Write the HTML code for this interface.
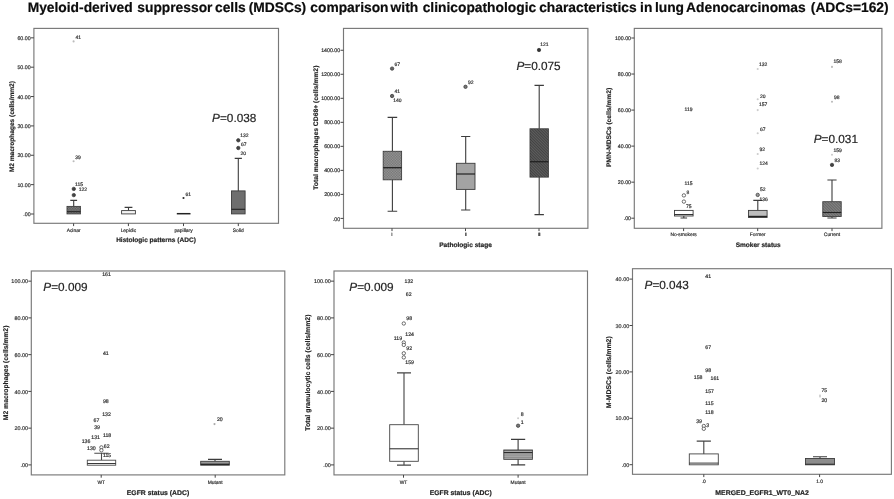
<!DOCTYPE html>
<html><head><meta charset="utf-8"><title>MDSCs boxplots</title>
<style>html,body{margin:0;padding:0;background:#fff;}body{width:894px;height:499px;overflow:hidden;}svg{display:block;font-family:"Liberation Sans", sans-serif;text-rendering:geometricPrecision;will-change:transform;opacity:0.999;filter:blur(0.35px);}</style></head><body>
<svg width="894" height="499" viewBox="0 0 894 499">
<rect width="894" height="499" fill="#fff"/>
<defs><pattern id="pCross" width="1.6" height="1.6" patternUnits="userSpaceOnUse"><rect width="1.6" height="1.6" fill="none"/><rect width="0.8" height="0.8" fill="#000" fill-opacity="0.22"/><rect x="0.8" y="0.8" width="0.8" height="0.8" fill="#000" fill-opacity="0.22"/><rect x="0.8" width="0.8" height="0.8" fill="#fff" fill-opacity="0.12"/><rect y="0.8" width="0.8" height="0.8" fill="#fff" fill-opacity="0.12"/></pattern><pattern id="pDiag" width="2" height="2" patternUnits="userSpaceOnUse" patternTransform="rotate(45)"><rect width="2" height="1" fill="#fff" fill-opacity="0.10"/><rect y="1" width="2" height="1" fill="#000" fill-opacity="0.12"/></pattern><pattern id="pHorz" width="2" height="1.8" patternUnits="userSpaceOnUse"><rect width="2" height="0.9" fill="#000" fill-opacity="0.18"/><rect y="0.9" width="2" height="0.9" fill="#fff" fill-opacity="0.10"/></pattern></defs>
<g font-size="13.8" font-weight="bold" fill="#0c0c0c" stroke="#0c0c0c" stroke-width="0.2">
<text x="27.7" y="11.8">Myeloid-derived</text>
<text x="137.3" y="11.8">suppressor</text>
<text x="215.0" y="11.8">cells</text>
<text x="248.7" y="11.8">(MDSCs)</text>
<text x="310.3" y="11.8">comparison</text>
<text x="390.6" y="11.8">with</text>
<text x="422.7" y="11.8">clinicopathologic</text>
<text x="539.2" y="11.8">characteristics</text>
<text x="640.1" y="11.8">in</text>
<text x="654.9" y="11.8">lung</text>
<text x="686.1" y="11.8">Adenocarcinomas</text>
<text x="810.8" y="11.8">(ADCs=162)</text>
</g>
<rect x="33.90" y="28.40" width="244.60" height="194.90" fill="none" stroke="#787878" stroke-width="1.15"/>
<line x1="30.90" y1="214.00" x2="33.90" y2="214.00" stroke="#444" stroke-width="1"/>
<text x="30.60" y="216.10" font-size="5.25" text-anchor="end" fill="#2c2c2c" stroke="#2c2c2c" stroke-width="0.18">.00</text>
<line x1="30.90" y1="184.64" x2="33.90" y2="184.64" stroke="#444" stroke-width="1"/>
<text x="30.60" y="186.74" font-size="5.25" text-anchor="end" fill="#2c2c2c" stroke="#2c2c2c" stroke-width="0.18">10.00</text>
<line x1="30.90" y1="155.28" x2="33.90" y2="155.28" stroke="#444" stroke-width="1"/>
<text x="30.60" y="157.38" font-size="5.25" text-anchor="end" fill="#2c2c2c" stroke="#2c2c2c" stroke-width="0.18">20.00</text>
<line x1="30.90" y1="125.92" x2="33.90" y2="125.92" stroke="#444" stroke-width="1"/>
<text x="30.60" y="128.02" font-size="5.25" text-anchor="end" fill="#2c2c2c" stroke="#2c2c2c" stroke-width="0.18">30.00</text>
<line x1="30.90" y1="96.56" x2="33.90" y2="96.56" stroke="#444" stroke-width="1"/>
<text x="30.60" y="98.66" font-size="5.25" text-anchor="end" fill="#2c2c2c" stroke="#2c2c2c" stroke-width="0.18">40.00</text>
<line x1="30.90" y1="67.20" x2="33.90" y2="67.20" stroke="#444" stroke-width="1"/>
<text x="30.60" y="69.30" font-size="5.25" text-anchor="end" fill="#2c2c2c" stroke="#2c2c2c" stroke-width="0.18">50.00</text>
<line x1="30.90" y1="37.84" x2="33.90" y2="37.84" stroke="#444" stroke-width="1"/>
<text x="30.60" y="39.94" font-size="5.25" text-anchor="end" fill="#2c2c2c" stroke="#2c2c2c" stroke-width="0.18">60.00</text>
<text transform="translate(13.70,126.60) rotate(-90)" font-size="6.6" text-anchor="middle" font-weight="bold" fill="#222" stroke="#222" stroke-width="0.15" textLength="91.00" lengthAdjust="spacingAndGlyphs">M2 macrophages (cells/mm2)</text>
<line x1="73.60" y1="223.30" x2="73.60" y2="226.10" stroke="#444" stroke-width="1"/>
<text x="73.60" y="231.60" font-size="4.9" text-anchor="middle" fill="#2c2c2c" stroke="#2c2c2c" stroke-width="0.18">Acinar</text>
<line x1="128.40" y1="223.30" x2="128.40" y2="226.10" stroke="#444" stroke-width="1"/>
<text x="128.40" y="231.60" font-size="4.9" text-anchor="middle" fill="#2c2c2c" stroke="#2c2c2c" stroke-width="0.18">Lepidic</text>
<line x1="183.50" y1="223.30" x2="183.50" y2="226.10" stroke="#444" stroke-width="1"/>
<text x="183.50" y="231.60" font-size="4.9" text-anchor="middle" fill="#2c2c2c" stroke="#2c2c2c" stroke-width="0.18">papillary</text>
<line x1="238.30" y1="223.30" x2="238.30" y2="226.10" stroke="#444" stroke-width="1"/>
<text x="238.30" y="231.60" font-size="4.9" text-anchor="middle" fill="#2c2c2c" stroke="#2c2c2c" stroke-width="0.18">Solid</text>
<text x="156.00" y="242.30" font-size="6.6" text-anchor="middle" font-weight="bold" fill="#222" stroke="#222" stroke-width="0.18" textLength="79.70" lengthAdjust="spacingAndGlyphs">Histologic patterns (ADC)</text>
<path d="M73.70 206.40V200.40M70.30 200.40H77.10" stroke="#3c3c3c" stroke-width="1.1" fill="none"/>
<rect x="67.00" y="206.40" width="13.40" height="7.50" fill="#707070" stroke="#3c3c3c" stroke-width="0.9"/>
<rect x="67.00" y="206.40" width="13.40" height="7.50" fill="url(#pCross)" stroke="none"/>
<line x1="67.00" y1="211.70" x2="80.40" y2="211.70" stroke="#222" stroke-width="1.0"/>
<path d="M128.50 210.60V207.40M124.60 207.40H132.40" stroke="#3c3c3c" stroke-width="1.1" fill="none"/>
<rect x="121.60" y="210.60" width="13.80" height="3.30" fill="#f4f4f4" stroke="#3c3c3c" stroke-width="0.9"/>
<line x1="176.8" y1="213.7" x2="190.5" y2="213.7" stroke="#222" stroke-width="1.5"/>
<path d="M238.30 190.90V158.40M234.70 158.40H241.90" stroke="#3c3c3c" stroke-width="1.1" fill="none"/>
<rect x="231.50" y="190.90" width="13.60" height="23.00" fill="#6e6e6e" stroke="#3c3c3c" stroke-width="0.9"/>
<line x1="231.50" y1="209.30" x2="245.10" y2="209.30" stroke="#222" stroke-width="1.1"/>
<circle cx="73.60" cy="41.40" r="1.05" fill="#bbb"/>
<text x="75.60" y="39.30" font-size="5.0" text-anchor="start" fill="#2c2c2c" stroke="#2c2c2c" stroke-width="0.18">41</text>
<circle cx="73.60" cy="161.20" r="1.05" fill="#bbb"/>
<text x="75.20" y="158.80" font-size="5.0" text-anchor="start" fill="#2c2c2c" stroke="#2c2c2c" stroke-width="0.18">39</text>
<circle cx="73.80" cy="188.90" r="1.7" fill="#444" stroke="#333" stroke-width="0.7"/>
<text x="75.00" y="185.60" font-size="5.0" text-anchor="start" fill="#2c2c2c" stroke="#2c2c2c" stroke-width="0.18">115</text>
<circle cx="73.80" cy="195.10" r="1.7" fill="#444" stroke="#333" stroke-width="0.7"/>
<text x="78.80" y="191.40" font-size="5.0" text-anchor="start" fill="#2c2c2c" stroke="#2c2c2c" stroke-width="0.18">122</text>
<circle cx="183.50" cy="198.00" r="1.05" fill="#2a2a2a"/>
<text x="185.40" y="195.50" font-size="5.0" text-anchor="start" fill="#2c2c2c" stroke="#2c2c2c" stroke-width="0.18">61</text>
<circle cx="238.30" cy="140.30" r="1.7" fill="#444" stroke="#333" stroke-width="0.7"/>
<text x="240.20" y="137.10" font-size="5.0" text-anchor="start" fill="#2c2c2c" stroke="#2c2c2c" stroke-width="0.18">132</text>
<circle cx="238.30" cy="148.00" r="1.7" fill="#444" stroke="#333" stroke-width="0.7"/>
<text x="241.00" y="145.80" font-size="5.0" text-anchor="start" fill="#2c2c2c" stroke="#2c2c2c" stroke-width="0.18">67</text>
<text x="240.50" y="155.10" font-size="5.0" text-anchor="start" fill="#2c2c2c" stroke="#2c2c2c" stroke-width="0.18">20</text>
<text x="212.10" y="121.90" font-size="11.8" fill="#262626" stroke="#262626" stroke-width="0.2"><tspan font-style="italic">P</tspan>=0.038</text>
<rect x="343.50" y="28.40" width="244.40" height="199.90" fill="none" stroke="#787878" stroke-width="1.15"/>
<line x1="340.50" y1="218.40" x2="343.50" y2="218.40" stroke="#444" stroke-width="1"/>
<text x="340.20" y="220.50" font-size="5.25" text-anchor="end" fill="#2c2c2c" stroke="#2c2c2c" stroke-width="0.18">.00</text>
<line x1="340.50" y1="194.38" x2="343.50" y2="194.38" stroke="#444" stroke-width="1"/>
<text x="340.20" y="196.48" font-size="5.25" text-anchor="end" fill="#2c2c2c" stroke="#2c2c2c" stroke-width="0.18">200.00</text>
<line x1="340.50" y1="170.36" x2="343.50" y2="170.36" stroke="#444" stroke-width="1"/>
<text x="340.20" y="172.46" font-size="5.25" text-anchor="end" fill="#2c2c2c" stroke="#2c2c2c" stroke-width="0.18">400.00</text>
<line x1="340.50" y1="146.34" x2="343.50" y2="146.34" stroke="#444" stroke-width="1"/>
<text x="340.20" y="148.44" font-size="5.25" text-anchor="end" fill="#2c2c2c" stroke="#2c2c2c" stroke-width="0.18">600.00</text>
<line x1="340.50" y1="122.32" x2="343.50" y2="122.32" stroke="#444" stroke-width="1"/>
<text x="340.20" y="124.42" font-size="5.25" text-anchor="end" fill="#2c2c2c" stroke="#2c2c2c" stroke-width="0.18">800.00</text>
<line x1="340.50" y1="98.30" x2="343.50" y2="98.30" stroke="#444" stroke-width="1"/>
<text x="340.20" y="100.40" font-size="5.25" text-anchor="end" fill="#2c2c2c" stroke="#2c2c2c" stroke-width="0.18">1000.00</text>
<line x1="340.50" y1="74.28" x2="343.50" y2="74.28" stroke="#444" stroke-width="1"/>
<text x="340.20" y="76.38" font-size="5.25" text-anchor="end" fill="#2c2c2c" stroke="#2c2c2c" stroke-width="0.18">1200.00</text>
<line x1="340.50" y1="50.26" x2="343.50" y2="50.26" stroke="#444" stroke-width="1"/>
<text x="340.20" y="52.36" font-size="5.25" text-anchor="end" fill="#2c2c2c" stroke="#2c2c2c" stroke-width="0.18">1400.00</text>
<text transform="translate(317.50,127.70) rotate(-90)" font-size="6.6" text-anchor="middle" font-weight="bold" fill="#222" stroke="#222" stroke-width="0.15" textLength="124.20" lengthAdjust="spacingAndGlyphs">Total macrophages CD68+ (cells/mm2)</text>
<line x1="392.00" y1="228.30" x2="392.00" y2="231.10" stroke="#444" stroke-width="1"/>
<text x="392.00" y="236.30" font-size="4.6" text-anchor="middle" fill="#2c2c2c" stroke="#2c2c2c" stroke-width="0.18">I</text>
<line x1="465.50" y1="228.30" x2="465.50" y2="231.10" stroke="#444" stroke-width="1"/>
<text x="465.50" y="236.30" font-size="4.6" text-anchor="middle" fill="#2c2c2c" stroke="#2c2c2c" stroke-width="0.18" letter-spacing="-0.45">II</text>
<line x1="539.00" y1="228.30" x2="539.00" y2="231.10" stroke="#444" stroke-width="1"/>
<text x="539.00" y="236.30" font-size="4.6" text-anchor="middle" fill="#2c2c2c" stroke="#2c2c2c" stroke-width="0.18" letter-spacing="-0.6">III</text>
<text x="465.50" y="247.20" font-size="6.6" text-anchor="middle" font-weight="bold" fill="#222" stroke="#222" stroke-width="0.18" textLength="52.70" lengthAdjust="spacingAndGlyphs">Pathologic stage</text>
<path d="M392.40 151.30V117.40M387.60 117.40H397.20" stroke="#3c3c3c" stroke-width="1.1" fill="none"/>
<path d="M392.40 179.80V211.30M387.60 211.30H397.20" stroke="#3c3c3c" stroke-width="1.1" fill="none"/>
<rect x="383.20" y="151.30" width="18.40" height="28.50" fill="#8e8e8e" stroke="#3c3c3c" stroke-width="0.9"/>
<rect x="383.20" y="151.30" width="18.40" height="28.50" fill="url(#pCross)" stroke="none"/>
<line x1="383.20" y1="167.70" x2="401.60" y2="167.70" stroke="#222" stroke-width="1.3"/>
<path d="M465.70 163.30V136.50M461.10 136.50H470.30" stroke="#3c3c3c" stroke-width="1.1" fill="none"/>
<path d="M465.70 189.40V210.00M461.10 210.00H470.30" stroke="#3c3c3c" stroke-width="1.1" fill="none"/>
<rect x="456.40" y="163.30" width="18.60" height="26.10" fill="#a3a3a3" stroke="#3c3c3c" stroke-width="0.9"/>
<line x1="456.40" y1="174.00" x2="475.00" y2="174.00" stroke="#222" stroke-width="1.2"/>
<path d="M539.20 128.80V85.40M534.50 85.40H543.90" stroke="#3c3c3c" stroke-width="1.1" fill="none"/>
<path d="M539.20 177.10V214.60M534.50 214.60H543.90" stroke="#3c3c3c" stroke-width="1.1" fill="none"/>
<rect x="530.00" y="128.80" width="18.40" height="48.30" fill="#4c4c4c" stroke="#3c3c3c" stroke-width="0.9"/>
<rect x="530.00" y="128.80" width="18.40" height="48.30" fill="url(#pDiag)" stroke="none"/>
<line x1="530.00" y1="161.70" x2="548.40" y2="161.70" stroke="#222" stroke-width="1.3"/>
<circle cx="392.10" cy="68.60" r="1.7" fill="#666" stroke="#333" stroke-width="0.7"/>
<text x="394.50" y="65.80" font-size="5.0" text-anchor="start" fill="#2c2c2c" stroke="#2c2c2c" stroke-width="0.18">67</text>
<circle cx="392.10" cy="96.00" r="1.7" fill="#666" stroke="#333" stroke-width="0.7"/>
<text x="394.50" y="92.80" font-size="5.0" text-anchor="start" fill="#2c2c2c" stroke="#2c2c2c" stroke-width="0.18">41</text>
<text x="393.30" y="102.10" font-size="5.0" text-anchor="start" fill="#2c2c2c" stroke="#2c2c2c" stroke-width="0.18">140</text>
<circle cx="465.50" cy="86.80" r="1.7" fill="#777" stroke="#333" stroke-width="0.7"/>
<text x="467.90" y="83.80" font-size="5.0" text-anchor="start" fill="#2c2c2c" stroke="#2c2c2c" stroke-width="0.18">92</text>
<circle cx="539.00" cy="50.00" r="1.7" fill="#333" stroke="#333" stroke-width="0.7"/>
<text x="540.20" y="45.80" font-size="5.0" text-anchor="start" fill="#2c2c2c" stroke="#2c2c2c" stroke-width="0.18">121</text>
<text x="516.40" y="69.80" font-size="11.8" fill="#262626" stroke="#262626" stroke-width="0.2"><tspan font-style="italic">P</tspan>=0.075</text>
<rect x="634.30" y="28.40" width="247.60" height="199.90" fill="none" stroke="#787878" stroke-width="1.15"/>
<line x1="631.30" y1="218.20" x2="634.30" y2="218.20" stroke="#444" stroke-width="1"/>
<text x="631.00" y="220.30" font-size="5.25" text-anchor="end" fill="#2c2c2c" stroke="#2c2c2c" stroke-width="0.18">.00</text>
<line x1="631.30" y1="182.16" x2="634.30" y2="182.16" stroke="#444" stroke-width="1"/>
<text x="631.00" y="184.26" font-size="5.25" text-anchor="end" fill="#2c2c2c" stroke="#2c2c2c" stroke-width="0.18">20.00</text>
<line x1="631.30" y1="146.12" x2="634.30" y2="146.12" stroke="#444" stroke-width="1"/>
<text x="631.00" y="148.22" font-size="5.25" text-anchor="end" fill="#2c2c2c" stroke="#2c2c2c" stroke-width="0.18">40.00</text>
<line x1="631.30" y1="110.08" x2="634.30" y2="110.08" stroke="#444" stroke-width="1"/>
<text x="631.00" y="112.18" font-size="5.25" text-anchor="end" fill="#2c2c2c" stroke="#2c2c2c" stroke-width="0.18">60.00</text>
<line x1="631.30" y1="74.04" x2="634.30" y2="74.04" stroke="#444" stroke-width="1"/>
<text x="631.00" y="76.14" font-size="5.25" text-anchor="end" fill="#2c2c2c" stroke="#2c2c2c" stroke-width="0.18">80.00</text>
<line x1="631.30" y1="38.00" x2="634.30" y2="38.00" stroke="#444" stroke-width="1"/>
<text x="631.00" y="40.10" font-size="5.25" text-anchor="end" fill="#2c2c2c" stroke="#2c2c2c" stroke-width="0.18">100.00</text>
<text transform="translate(610.80,127.40) rotate(-90)" font-size="6.6" text-anchor="middle" font-weight="bold" fill="#222" stroke="#222" stroke-width="0.15" textLength="79.00" lengthAdjust="spacingAndGlyphs">PMN-MDSCs (cells/mm2)</text>
<line x1="683.60" y1="228.30" x2="683.60" y2="231.10" stroke="#444" stroke-width="1"/>
<text x="683.60" y="236.30" font-size="4.9" text-anchor="middle" fill="#2c2c2c" stroke="#2c2c2c" stroke-width="0.18">No-smokers</text>
<line x1="757.70" y1="228.30" x2="757.70" y2="231.10" stroke="#444" stroke-width="1"/>
<text x="757.70" y="236.30" font-size="4.9" text-anchor="middle" fill="#2c2c2c" stroke="#2c2c2c" stroke-width="0.18">Former</text>
<line x1="832.00" y1="228.30" x2="832.00" y2="231.10" stroke="#444" stroke-width="1"/>
<text x="832.00" y="236.30" font-size="4.9" text-anchor="middle" fill="#2c2c2c" stroke="#2c2c2c" stroke-width="0.18">Current</text>
<text x="758.20" y="247.20" font-size="6.6" text-anchor="middle" font-weight="bold" fill="#222" stroke="#222" stroke-width="0.18" textLength="45.00" lengthAdjust="spacingAndGlyphs">Smoker status</text>
<path d="M683.80 216.00V218.00M680.50 218.00H687.10" stroke="#3c3c3c" stroke-width="1.1" fill="none"/>
<rect x="674.50" y="210.40" width="18.60" height="5.60" fill="#fff" stroke="#3c3c3c" stroke-width="0.9"/>
<line x1="674.50" y1="214.60" x2="693.10" y2="214.60" stroke="#222" stroke-width="1.0"/>
<path d="M757.80 210.40V200.40M753.30 200.40H762.30" stroke="#3c3c3c" stroke-width="1.1" fill="none"/>
<rect x="748.50" y="210.40" width="18.60" height="7.10" fill="#bdbdbd" stroke="#3c3c3c" stroke-width="0.9"/>
<line x1="748.50" y1="216.40" x2="767.10" y2="216.40" stroke="#222" stroke-width="1.2"/>
<path d="M832.00 201.70V180.00M827.40 180.00H836.60" stroke="#3c3c3c" stroke-width="1.1" fill="none"/>
<path d="M832.00 216.50V218.00M827.40 218.00H836.60" stroke="#3c3c3c" stroke-width="1.1" fill="none"/>
<rect x="822.80" y="201.70" width="18.40" height="14.80" fill="#757575" stroke="#3c3c3c" stroke-width="0.9"/>
<rect x="822.80" y="201.70" width="18.40" height="14.80" fill="url(#pDiag)" stroke="none"/>
<line x1="822.80" y1="212.50" x2="841.20" y2="212.50" stroke="#222" stroke-width="1.1"/>
<text x="684.60" y="111.00" font-size="5.0" text-anchor="start" fill="#2c2c2c" stroke="#2c2c2c" stroke-width="0.18">119</text>
<text x="684.60" y="185.20" font-size="5.0" text-anchor="start" fill="#2c2c2c" stroke="#2c2c2c" stroke-width="0.18">115</text>
<circle cx="683.90" cy="195.40" r="1.7" fill="#fff" stroke="#333" stroke-width="0.7"/>
<text x="686.50" y="193.60" font-size="5.0" text-anchor="start" fill="#2c2c2c" stroke="#2c2c2c" stroke-width="0.18">8</text>
<circle cx="683.90" cy="201.60" r="1.7" fill="#fff" stroke="#333" stroke-width="0.7"/>
<text x="686.00" y="208.00" font-size="5.0" text-anchor="start" fill="#2c2c2c" stroke="#2c2c2c" stroke-width="0.18">75</text>
<circle cx="757.70" cy="69.00" r="1.05" fill="#ccc"/>
<text x="758.90" y="65.80" font-size="5.0" text-anchor="start" fill="#2c2c2c" stroke="#2c2c2c" stroke-width="0.18">132</text>
<circle cx="757.70" cy="99.30" r="1.05" fill="#ccc"/>
<text x="759.90" y="97.50" font-size="5.0" text-anchor="start" fill="#2c2c2c" stroke="#2c2c2c" stroke-width="0.18">20</text>
<circle cx="757.70" cy="110.10" r="1.05" fill="#ccc"/>
<text x="758.90" y="106.40" font-size="5.0" text-anchor="start" fill="#2c2c2c" stroke="#2c2c2c" stroke-width="0.18">157</text>
<circle cx="757.70" cy="133.20" r="1.05" fill="#ccc"/>
<text x="759.90" y="130.70" font-size="5.0" text-anchor="start" fill="#2c2c2c" stroke="#2c2c2c" stroke-width="0.18">67</text>
<circle cx="757.70" cy="154.00" r="1.05" fill="#ccc"/>
<text x="759.40" y="151.00" font-size="5.0" text-anchor="start" fill="#2c2c2c" stroke="#2c2c2c" stroke-width="0.18">92</text>
<circle cx="757.70" cy="168.50" r="1.05" fill="#ccc"/>
<text x="759.40" y="165.00" font-size="5.0" text-anchor="start" fill="#2c2c2c" stroke="#2c2c2c" stroke-width="0.18">124</text>
<circle cx="757.70" cy="194.90" r="1.7" fill="#999" stroke="#333" stroke-width="0.7"/>
<text x="759.90" y="191.20" font-size="5.0" text-anchor="start" fill="#2c2c2c" stroke="#2c2c2c" stroke-width="0.18">52</text>
<text x="759.40" y="201.30" font-size="5.0" text-anchor="start" fill="#2c2c2c" stroke="#2c2c2c" stroke-width="0.18">136</text>
<circle cx="832.00" cy="66.90" r="1.05" fill="#bbb"/>
<text x="833.40" y="63.40" font-size="5.0" text-anchor="start" fill="#2c2c2c" stroke="#2c2c2c" stroke-width="0.18">158</text>
<circle cx="832.00" cy="101.70" r="1.05" fill="#bbb"/>
<text x="833.90" y="99.20" font-size="5.0" text-anchor="start" fill="#2c2c2c" stroke="#2c2c2c" stroke-width="0.18">98</text>
<circle cx="832.00" cy="154.80" r="1.05" fill="#ccc"/>
<text x="833.40" y="151.50" font-size="5.0" text-anchor="start" fill="#2c2c2c" stroke="#2c2c2c" stroke-width="0.18">159</text>
<circle cx="832.00" cy="164.90" r="1.7" fill="#444" stroke="#333" stroke-width="0.7"/>
<text x="834.60" y="161.80" font-size="5.0" text-anchor="start" fill="#2c2c2c" stroke="#2c2c2c" stroke-width="0.18">83</text>
<text x="813.70" y="142.50" font-size="11.8" fill="#262626" stroke="#262626" stroke-width="0.2"><tspan font-style="italic">P</tspan>=0.031</text>
<rect x="31.30" y="271.00" width="253.50" height="203.90" fill="none" stroke="#787878" stroke-width="1.15"/>
<line x1="28.30" y1="464.90" x2="31.30" y2="464.90" stroke="#444" stroke-width="1"/>
<text x="28.00" y="467.07" font-size="5.45" text-anchor="end" fill="#2c2c2c" stroke="#2c2c2c" stroke-width="0.18">.00</text>
<line x1="28.30" y1="428.15" x2="31.30" y2="428.15" stroke="#444" stroke-width="1"/>
<text x="28.00" y="430.32" font-size="5.45" text-anchor="end" fill="#2c2c2c" stroke="#2c2c2c" stroke-width="0.18">20.00</text>
<line x1="28.30" y1="391.40" x2="31.30" y2="391.40" stroke="#444" stroke-width="1"/>
<text x="28.00" y="393.57" font-size="5.45" text-anchor="end" fill="#2c2c2c" stroke="#2c2c2c" stroke-width="0.18">40.00</text>
<line x1="28.30" y1="354.65" x2="31.30" y2="354.65" stroke="#444" stroke-width="1"/>
<text x="28.00" y="356.82" font-size="5.45" text-anchor="end" fill="#2c2c2c" stroke="#2c2c2c" stroke-width="0.18">60.00</text>
<line x1="28.30" y1="317.90" x2="31.30" y2="317.90" stroke="#444" stroke-width="1"/>
<text x="28.00" y="320.07" font-size="5.45" text-anchor="end" fill="#2c2c2c" stroke="#2c2c2c" stroke-width="0.18">80.00</text>
<line x1="28.30" y1="281.15" x2="31.30" y2="281.15" stroke="#444" stroke-width="1"/>
<text x="28.00" y="283.32" font-size="5.45" text-anchor="end" fill="#2c2c2c" stroke="#2c2c2c" stroke-width="0.18">100.00</text>
<text transform="translate(7.90,372.90) rotate(-90)" font-size="6.85" text-anchor="middle" font-weight="bold" fill="#222" stroke="#222" stroke-width="0.15" textLength="94.60" lengthAdjust="spacingAndGlyphs">M2 macrophages (cells/mm2)</text>
<line x1="101.20" y1="474.90" x2="101.20" y2="477.70" stroke="#444" stroke-width="1"/>
<text x="101.20" y="483.50" font-size="4.9" text-anchor="middle" fill="#2c2c2c" stroke="#2c2c2c" stroke-width="0.18">WT</text>
<line x1="215.20" y1="474.90" x2="215.20" y2="477.70" stroke="#444" stroke-width="1"/>
<text x="215.20" y="483.50" font-size="4.9" text-anchor="middle" fill="#2c2c2c" stroke="#2c2c2c" stroke-width="0.18">Mutant</text>
<text x="158.00" y="494.60" font-size="6.85" text-anchor="middle" font-weight="bold" fill="#222" stroke="#222" stroke-width="0.18" textLength="62.40" lengthAdjust="spacingAndGlyphs">EGFR status (ADC)</text>
<path d="M101.50 460.20V453.30M94.30 453.30H108.70" stroke="#4a4a4a" stroke-width="1.1" fill="none"/>
<rect x="87.30" y="460.20" width="28.40" height="5.00" fill="#fff" stroke="#4a4a4a" stroke-width="0.9"/>
<line x1="87.30" y1="463.50" x2="115.70" y2="463.50" stroke="#222" stroke-width="0.9"/>
<path d="M215.00 461.30V459.40M208.00 459.40H222.00" stroke="#3c3c3c" stroke-width="1.1" fill="none"/>
<rect x="200.70" y="461.30" width="28.60" height="3.90" fill="#999" stroke="#3c3c3c" stroke-width="0.9"/>
<line x1="200.70" y1="464.30" x2="229.30" y2="464.30" stroke="#222" stroke-width="1.3"/>
<circle cx="101.40" cy="447.40" r="1.7" fill="#fff" stroke="#333" stroke-width="0.7"/>
<circle cx="101.40" cy="450.30" r="1.7" fill="#fff" stroke="#333" stroke-width="0.7"/>
<text x="102.20" y="276.07" font-size="5.2" text-anchor="start" fill="#2c2c2c" stroke="#2c2c2c" stroke-width="0.18">161</text>
<text x="102.90" y="354.67" font-size="5.2" text-anchor="start" fill="#2c2c2c" stroke="#2c2c2c" stroke-width="0.18">41</text>
<text x="102.90" y="403.27" font-size="5.2" text-anchor="start" fill="#2c2c2c" stroke="#2c2c2c" stroke-width="0.18">98</text>
<text x="102.20" y="415.77" font-size="5.2" text-anchor="start" fill="#2c2c2c" stroke="#2c2c2c" stroke-width="0.18">132</text>
<text x="93.50" y="421.77" font-size="5.2" text-anchor="start" fill="#2c2c2c" stroke="#2c2c2c" stroke-width="0.18">67</text>
<text x="94.20" y="429.47" font-size="5.2" text-anchor="start" fill="#2c2c2c" stroke="#2c2c2c" stroke-width="0.18">39</text>
<text x="91.30" y="438.57" font-size="5.2" text-anchor="start" fill="#2c2c2c" stroke="#2c2c2c" stroke-width="0.18">131</text>
<text x="102.90" y="436.67" font-size="5.2" text-anchor="start" fill="#2c2c2c" stroke="#2c2c2c" stroke-width="0.18">118</text>
<text x="81.70" y="442.67" font-size="5.2" text-anchor="start" fill="#2c2c2c" stroke="#2c2c2c" stroke-width="0.18">136</text>
<text x="87.00" y="450.07" font-size="5.2" text-anchor="start" fill="#2c2c2c" stroke="#2c2c2c" stroke-width="0.18">130</text>
<text x="103.80" y="448.47" font-size="5.2" text-anchor="start" fill="#2c2c2c" stroke="#2c2c2c" stroke-width="0.18">62</text>
<text x="102.90" y="456.57" font-size="5.2" text-anchor="start" fill="#2c2c2c" stroke="#2c2c2c" stroke-width="0.18">115</text>
<circle cx="214.50" cy="424.10" r="1.05" fill="#aaa"/>
<text x="216.90" y="421.47" font-size="5.2" text-anchor="start" fill="#2c2c2c" stroke="#2c2c2c" stroke-width="0.18">20</text>
<text x="43.30" y="291.20" font-size="11.8" fill="#262626" stroke="#262626" stroke-width="0.2"><tspan font-style="italic">P</tspan>=0.009</text>
<rect x="334.00" y="271.00" width="253.50" height="203.90" fill="none" stroke="#787878" stroke-width="1.15"/>
<line x1="331.00" y1="464.90" x2="334.00" y2="464.90" stroke="#444" stroke-width="1"/>
<text x="330.70" y="467.07" font-size="5.45" text-anchor="end" fill="#2c2c2c" stroke="#2c2c2c" stroke-width="0.18">.00</text>
<line x1="331.00" y1="428.15" x2="334.00" y2="428.15" stroke="#444" stroke-width="1"/>
<text x="330.70" y="430.32" font-size="5.45" text-anchor="end" fill="#2c2c2c" stroke="#2c2c2c" stroke-width="0.18">20.00</text>
<line x1="331.00" y1="391.40" x2="334.00" y2="391.40" stroke="#444" stroke-width="1"/>
<text x="330.70" y="393.57" font-size="5.45" text-anchor="end" fill="#2c2c2c" stroke="#2c2c2c" stroke-width="0.18">40.00</text>
<line x1="331.00" y1="354.65" x2="334.00" y2="354.65" stroke="#444" stroke-width="1"/>
<text x="330.70" y="356.82" font-size="5.45" text-anchor="end" fill="#2c2c2c" stroke="#2c2c2c" stroke-width="0.18">60.00</text>
<line x1="331.00" y1="317.90" x2="334.00" y2="317.90" stroke="#444" stroke-width="1"/>
<text x="330.70" y="320.07" font-size="5.45" text-anchor="end" fill="#2c2c2c" stroke="#2c2c2c" stroke-width="0.18">80.00</text>
<line x1="331.00" y1="281.15" x2="334.00" y2="281.15" stroke="#444" stroke-width="1"/>
<text x="330.70" y="283.32" font-size="5.45" text-anchor="end" fill="#2c2c2c" stroke="#2c2c2c" stroke-width="0.18">100.00</text>
<text transform="translate(310.30,372.60) rotate(-90)" font-size="6.85" text-anchor="middle" font-weight="bold" fill="#222" stroke="#222" stroke-width="0.15" textLength="116.20" lengthAdjust="spacingAndGlyphs">Total granulocytic cells (cells/mm2)</text>
<line x1="403.50" y1="474.90" x2="403.50" y2="477.70" stroke="#444" stroke-width="1"/>
<text x="403.50" y="483.50" font-size="4.9" text-anchor="middle" fill="#2c2c2c" stroke="#2c2c2c" stroke-width="0.18">WT</text>
<line x1="518.10" y1="474.90" x2="518.10" y2="477.70" stroke="#444" stroke-width="1"/>
<text x="518.10" y="483.50" font-size="4.9" text-anchor="middle" fill="#2c2c2c" stroke="#2c2c2c" stroke-width="0.18">Mutant</text>
<text x="460.70" y="494.60" font-size="6.85" text-anchor="middle" font-weight="bold" fill="#222" stroke="#222" stroke-width="0.18" textLength="62.00" lengthAdjust="spacingAndGlyphs">EGFR status (ADC)</text>
<path d="M404.00 424.70V372.90M397.00 372.90H411.00" stroke="#444" stroke-width="1.1" fill="none"/>
<path d="M404.00 461.30V465.10M397.00 465.10H411.00" stroke="#444" stroke-width="1.1" fill="none"/>
<rect x="389.70" y="424.70" width="28.60" height="36.60" fill="#fff" stroke="#444" stroke-width="0.9"/>
<line x1="389.70" y1="448.80" x2="418.30" y2="448.80" stroke="#222" stroke-width="1.0"/>
<path d="M518.10 450.00V439.40M511.00 439.40H525.20" stroke="#3c3c3c" stroke-width="1.1" fill="none"/>
<path d="M518.10 459.30V464.90M511.00 464.90H525.20" stroke="#3c3c3c" stroke-width="1.1" fill="none"/>
<rect x="503.80" y="450.00" width="28.60" height="9.30" fill="#a8a8a8" stroke="#3c3c3c" stroke-width="0.9"/>
<rect x="503.80" y="450.00" width="28.60" height="9.30" fill="url(#pHorz)" stroke="none"/>
<line x1="503.80" y1="452.60" x2="532.40" y2="452.60" stroke="#222" stroke-width="1.0"/>
<circle cx="403.80" cy="323.50" r="1.7" fill="#fff" stroke="#333" stroke-width="0.7"/>
<circle cx="403.80" cy="342.50" r="1.7" fill="#fff" stroke="#333" stroke-width="0.7"/>
<circle cx="403.80" cy="344.90" r="1.7" fill="#fff" stroke="#333" stroke-width="0.7"/>
<circle cx="403.80" cy="353.30" r="1.7" fill="#fff" stroke="#333" stroke-width="0.7"/>
<circle cx="403.80" cy="357.40" r="1.7" fill="#fff" stroke="#333" stroke-width="0.7"/>
<text x="404.60" y="283.47" font-size="5.2" text-anchor="start" fill="#2c2c2c" stroke="#2c2c2c" stroke-width="0.18">132</text>
<text x="405.80" y="295.57" font-size="5.2" text-anchor="start" fill="#2c2c2c" stroke="#2c2c2c" stroke-width="0.18">62</text>
<text x="406.30" y="320.27" font-size="5.2" text-anchor="start" fill="#2c2c2c" stroke="#2c2c2c" stroke-width="0.18">98</text>
<text x="405.30" y="335.67" font-size="5.2" text-anchor="start" fill="#2c2c2c" stroke="#2c2c2c" stroke-width="0.18">124</text>
<text x="393.80" y="339.57" font-size="5.2" text-anchor="start" fill="#2c2c2c" stroke="#2c2c2c" stroke-width="0.18">119</text>
<text x="406.30" y="350.37" font-size="5.2" text-anchor="start" fill="#2c2c2c" stroke="#2c2c2c" stroke-width="0.18">92</text>
<text x="405.30" y="363.57" font-size="5.2" text-anchor="start" fill="#2c2c2c" stroke="#2c2c2c" stroke-width="0.18">159</text>
<circle cx="518.10" cy="418.30" r="1.05" fill="#ccc"/>
<text x="520.80" y="416.27" font-size="5.2" text-anchor="start" fill="#2c2c2c" stroke="#2c2c2c" stroke-width="0.18">8</text>
<circle cx="518.10" cy="425.70" r="1.7" fill="#777" stroke="#333" stroke-width="0.7"/>
<text x="520.80" y="423.97" font-size="5.2" text-anchor="start" fill="#2c2c2c" stroke="#2c2c2c" stroke-width="0.18">1</text>
<text x="349.30" y="291.00" font-size="11.8" fill="#262626" stroke="#262626" stroke-width="0.2"><tspan font-style="italic">P</tspan>=0.009</text>
<rect x="632.50" y="268.70" width="258.90" height="205.60" fill="none" stroke="#787878" stroke-width="1.15"/>
<line x1="629.50" y1="464.70" x2="632.50" y2="464.70" stroke="#444" stroke-width="1"/>
<text x="629.20" y="466.87" font-size="5.45" text-anchor="end" fill="#2c2c2c" stroke="#2c2c2c" stroke-width="0.18">.00</text>
<line x1="629.50" y1="418.30" x2="632.50" y2="418.30" stroke="#444" stroke-width="1"/>
<text x="629.20" y="420.47" font-size="5.45" text-anchor="end" fill="#2c2c2c" stroke="#2c2c2c" stroke-width="0.18">10.00</text>
<line x1="629.50" y1="371.90" x2="632.50" y2="371.90" stroke="#444" stroke-width="1"/>
<text x="629.20" y="374.07" font-size="5.45" text-anchor="end" fill="#2c2c2c" stroke="#2c2c2c" stroke-width="0.18">20.00</text>
<line x1="629.50" y1="325.50" x2="632.50" y2="325.50" stroke="#444" stroke-width="1"/>
<text x="629.20" y="327.67" font-size="5.45" text-anchor="end" fill="#2c2c2c" stroke="#2c2c2c" stroke-width="0.18">30.00</text>
<line x1="629.50" y1="279.10" x2="632.50" y2="279.10" stroke="#444" stroke-width="1"/>
<text x="629.20" y="281.27" font-size="5.45" text-anchor="end" fill="#2c2c2c" stroke="#2c2c2c" stroke-width="0.18">40.00</text>
<text transform="translate(610.90,372.30) rotate(-90)" font-size="6.85" text-anchor="middle" font-weight="bold" fill="#222" stroke="#222" stroke-width="0.15" textLength="72.00" lengthAdjust="spacingAndGlyphs">M-MDSCs (cells/mm2)</text>
<line x1="703.80" y1="474.30" x2="703.80" y2="477.10" stroke="#444" stroke-width="1"/>
<text x="703.80" y="482.90" font-size="4.9" text-anchor="middle" fill="#2c2c2c" stroke="#2c2c2c" stroke-width="0.18">.0</text>
<line x1="819.60" y1="474.30" x2="819.60" y2="477.10" stroke="#444" stroke-width="1"/>
<text x="819.60" y="482.90" font-size="4.9" text-anchor="middle" fill="#2c2c2c" stroke="#2c2c2c" stroke-width="0.18">1.0</text>
<text x="762.10" y="494.60" font-size="6.85" text-anchor="middle" font-weight="bold" fill="#222" stroke="#222" stroke-width="0.18" textLength="93.50" lengthAdjust="spacingAndGlyphs">MERGED_EGFR1_WT0_NA2</text>
<path d="M703.80 453.90V441.10M696.70 441.10H710.90" stroke="#444" stroke-width="1.1" fill="none"/>
<rect x="689.30" y="453.90" width="29.00" height="10.90" fill="#fff" stroke="#444" stroke-width="0.9"/>
<line x1="689.30" y1="463.10" x2="718.30" y2="463.10" stroke="#222" stroke-width="0.9"/>
<path d="M820.00 458.50V456.70M813.00 456.70H827.00" stroke="#3c3c3c" stroke-width="1.1" fill="none"/>
<rect x="805.50" y="458.50" width="29.00" height="6.30" fill="#8c8c8c" stroke="#3c3c3c" stroke-width="0.9"/>
<line x1="805.50" y1="464.20" x2="834.50" y2="464.20" stroke="#222" stroke-width="0.8"/>
<circle cx="703.80" cy="426.00" r="1.7" fill="#fff" stroke="#333" stroke-width="0.7"/>
<circle cx="703.80" cy="428.80" r="1.7" fill="#fff" stroke="#333" stroke-width="0.7"/>
<text x="705.30" y="277.77" font-size="5.2" text-anchor="start" fill="#2c2c2c" stroke="#2c2c2c" stroke-width="0.18">41</text>
<text x="705.30" y="348.67" font-size="5.2" text-anchor="start" fill="#2c2c2c" stroke="#2c2c2c" stroke-width="0.18">67</text>
<text x="705.30" y="371.77" font-size="5.2" text-anchor="start" fill="#2c2c2c" stroke="#2c2c2c" stroke-width="0.18">98</text>
<text x="693.80" y="378.87" font-size="5.2" text-anchor="start" fill="#2c2c2c" stroke="#2c2c2c" stroke-width="0.18">158</text>
<text x="710.60" y="379.97" font-size="5.2" text-anchor="start" fill="#2c2c2c" stroke="#2c2c2c" stroke-width="0.18">161</text>
<text x="705.30" y="392.97" font-size="5.2" text-anchor="start" fill="#2c2c2c" stroke="#2c2c2c" stroke-width="0.18">157</text>
<text x="705.30" y="405.27" font-size="5.2" text-anchor="start" fill="#2c2c2c" stroke="#2c2c2c" stroke-width="0.18">115</text>
<text x="705.30" y="414.17" font-size="5.2" text-anchor="start" fill="#2c2c2c" stroke="#2c2c2c" stroke-width="0.18">118</text>
<text x="696.20" y="422.57" font-size="5.2" text-anchor="start" fill="#2c2c2c" stroke="#2c2c2c" stroke-width="0.18">39</text>
<text x="706.30" y="426.87" font-size="5.2" text-anchor="start" fill="#2c2c2c" stroke="#2c2c2c" stroke-width="0.18">3</text>
<circle cx="820.00" cy="395.30" r="0.7" fill="#aaa"/>
<circle cx="820.00" cy="396.80" r="0.7" fill="#aaa"/>
<text x="821.40" y="391.97" font-size="5.2" text-anchor="start" fill="#2c2c2c" stroke="#2c2c2c" stroke-width="0.18">75</text>
<text x="821.40" y="402.37" font-size="5.2" text-anchor="start" fill="#2c2c2c" stroke="#2c2c2c" stroke-width="0.18">20</text>
<text x="644.50" y="289.40" font-size="11.8" fill="#262626" stroke="#262626" stroke-width="0.2"><tspan font-style="italic">P</tspan>=0.043</text>
</svg></body></html>
